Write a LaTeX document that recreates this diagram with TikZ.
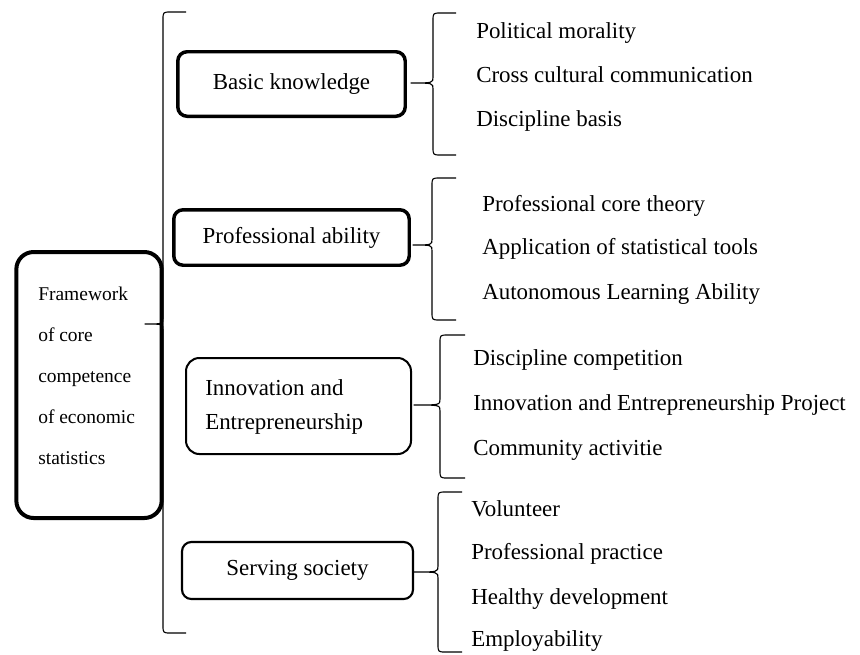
\documentclass[tikz,border=0pt]{standalone}
\usepackage{fontspec}
\setmainfont{Liberation Serif}
\begin{document}
\begin{tikzpicture}[x=0.75pt,y=-0.75pt,
  txt/.style={font=\fontsize{17.2}{20}\selectfont, inner sep=0pt, anchor=mid west},
  heavybox/.style={draw, line width=2.6pt, rounded corners=7pt, inner sep=0pt,
    font=\fontsize{17.2}{20}\selectfont},
  lightbox/.style={draw, line width=1.5pt, rounded corners=9pt, inner sep=0pt,
    font=\fontsize{17.2}{20}\selectfont},
  bracestyle/.style={line width=0.85pt, line join=round}]
\useasboundingbox (0,0) rectangle (860,654);

% curly bracket: #1 x, #2 top, #3 tip y, #4 bottom, #5 tip x, #6 end x
\newcommand\curlybracket[6]{%
  \draw[bracestyle] (#6,#2) -- ({#1+8},#2) .. controls (#1,#2) .. (#1,{#2+8})
    -- (#1,{#3-6}) .. controls (#1,#3) .. (#5,#3)
    .. controls (#1,#3) .. (#1,{#3+6})
    -- (#1,{#4-8}) .. controls (#1,#4) .. ({#1+8},#4) -- (#6,#4);}

% root box
\node[draw, line width=3pt, rounded corners=13pt, minimum width=109pt,
  minimum height=199.5pt] (core) at (89,385) {};
\node[anchor=north west, align=left, inner sep=0pt,
  font=\fontsize{14.6}{30.75}\selectfont] (coretext) at (38,287)
  {Framework\\of core\\competence\\of economic\\statistics};

% main bracket
\curlybracket{163}{12}{324}{633}{145}{186}

% category boxes
\node[heavybox, minimum width=170.6pt, minimum height=48.4pt] (basic) at (291.5,84) {Basic knowledge};
\node[heavybox, minimum width=176.6pt, minimum height=41.6pt] (prof) at (291.5,237.5) {Professional ability};
\node[lightbox, rounded corners=10pt, minimum width=168.75pt, minimum height=72pt] (innov) at (298.5,406) {};
\node[anchor=west, align=left, inner sep=0pt, font=\fontsize{17.2}{25.5}\selectfont]
  (innovtext) at (205,407) {Innovation and\\Entrepreneurship};
\node[lightbox, line width=1.6pt, rounded corners=7pt, minimum width=173.25pt, minimum height=42.75pt] (serve) at (297.5,570.5) {Serving society};

% item brackets
\curlybracket{433}{13}{83}{155}{411}{456}
\curlybracket{432}{178}{245}{320}{413}{456}
\curlybracket{440}{335}{405}{478}{414}{465}
\curlybracket{438}{492}{572}{652}{414}{462}

% items
\node[txt] (b1) at (476,35) {Political morality};
\node[txt] (b2) at (476,79) {Cross cultural communication};
\node[txt] (b3) at (476,123) {Discipline basis};
\node[txt] (p1) at (482,208) {Professional core theory};
\node[txt] (p2) at (482,251) {Application of statistical tools};
\node[txt] (p3) at (482,296) {Autonomous Learning Ability};
\node[txt] (i1) at (473,362) {Discipline competition};
\node[txt] (i2) at (473,407) {Innovation and Entrepreneurship Project};
\node[txt] (i3) at (473,452) {Community activitie};
\node[txt] (s1) at (471,513) {Volunteer};
\node[txt] (s2) at (471,556) {Professional practice};
\node[txt] (s3) at (471,601) {Healthy development};
\node[txt] (s4) at (471,643) {Employability};
\end{tikzpicture}
\end{document}
